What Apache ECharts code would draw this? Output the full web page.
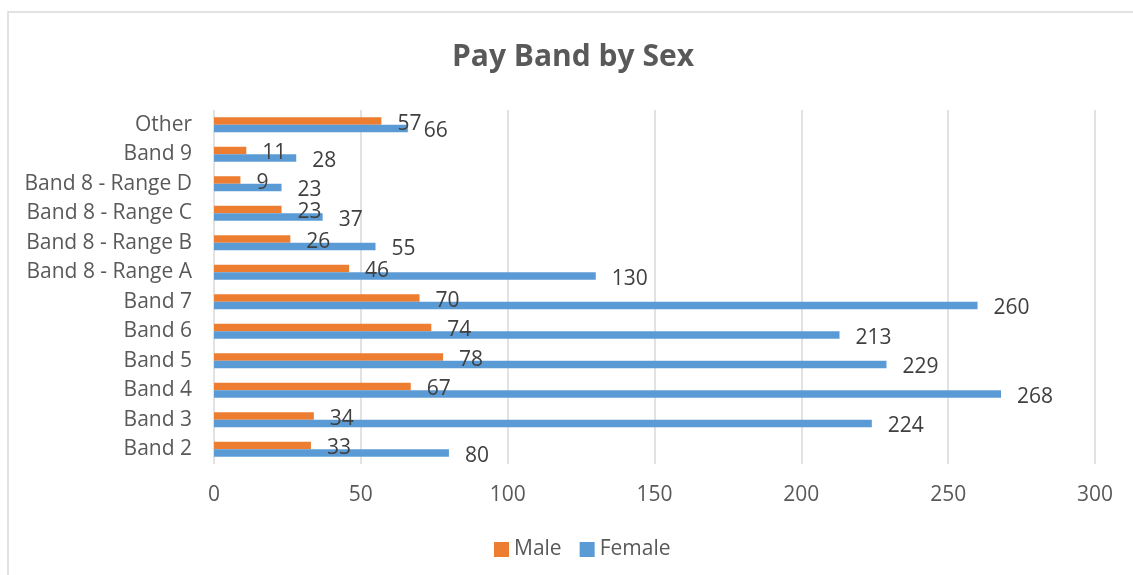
<!DOCTYPE html>
<html>
<head>
<meta charset="utf-8">
<script src="https://cdn.jsdelivr.net/npm/echarts@6/dist/echarts.min.js"></script>
<style>
  html, body { margin: 0; padding: 0; background: #fff; }
  #chart { width: 1133px; height: 575px; }
</style>
</head>
<body>
<div id="chart"></div>
<script>
// categories, bottom to top
const categories = [
  "Band 2", "Band 3", "Band 4", "Band 5", "Band 6", "Band 7",
  "Band 8 - Range A", "Band 8 - Range B", "Band 8 - Range C",
  "Band 8 - Range D", "Band 9", "Other"
];
const maleValues = [33, 34, 67, 78, 74, 70, 46, 26, 23, 9, 11, 57];
const femaleValues = [80, 224, 268, 229, 213, 260, 130, 55, 37, 23, 28, 66];
const xTicks = [0, 50, 100, 150, 200, 250, 300];

const font = "'Open Sans', sans-serif";
const chart = echarts.init(document.getElementById("chart"));

const labelStyle = {
  show: true,
  position: "right",
  distance: 16,
  offset: [0, 3],
  color: "#404040",
  fontSize: 21,
  fontFamily: font
};

chart.setOption({
  animation: false,
  title: {
    text: "Pay Band by Sex",
    left: 447,
    top: 37,
    textStyle: { color: "#595959", fontSize: 30, fontWeight: "bold", fontFamily: font }
  },
  graphic: [{
    type: "rect",
    shape: { x: 8, y: 12, width: 1200, height: 700 },
    style: { fill: "none", stroke: "#D9D9D9", lineWidth: 1.5 },
    silent: true
  }],
  legend: {
    data: ["Male", "Female"],
    bottom: 10,
    left: 489,
    icon: "rect",
    itemWidth: 15,
    itemHeight: 15,
    itemGap: 18,
    textStyle: { color: "#595959", fontSize: 21, fontFamily: font }
  },
  grid: { left: 214, right: 38, top: 110, bottom: 111 },
  xAxis: {
    type: "value",
    min: xTicks[0],
    max: xTicks[xTicks.length - 1],
    interval: 50,
    axisLine: { show: false },
    axisTick: { show: false },
    axisLabel: { color: "#595959", fontSize: 21, fontFamily: font, margin: 21 },
    splitLine: { show: true, lineStyle: { color: "#D9D9D9", width: 1.5 } }
  },
  yAxis: {
    type: "category",
    data: categories,
    axisLine: { show: false },
    axisTick: { show: false },
    axisLabel: { color: "#595959", fontSize: 21, fontFamily: font, margin: 22, padding: [3, 0, 0, 0] }
  },
  series: [
    {
      name: "Male",
      type: "bar",
      data: maleValues,
      barGap: "0%",
      barCategoryGap: "49%",
      itemStyle: { color: "#ED7D31" },
      label: labelStyle
    },
    {
      name: "Female",
      type: "bar",
      data: femaleValues,
      barGap: "0%",
      barCategoryGap: "49%",
      itemStyle: { color: "#5B9BD5" },
      label: labelStyle
    }
  ]
});
</script>
</body>
</html>
